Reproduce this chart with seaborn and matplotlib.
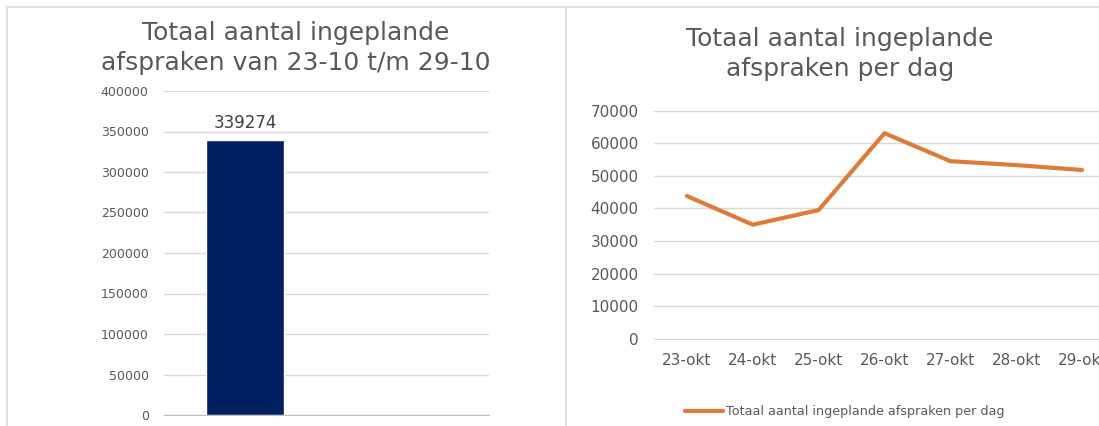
import matplotlib.pyplot as plt
import matplotlib.ticker as mticker
from matplotlib.lines import Line2D
import pandas as pd
import seaborn as sns

# data
totaal_label = ["Totaal"]
totaal_waarde = [339274]

dagen = ["23-okt", "24-okt", "25-okt", "26-okt", "27-okt", "28-okt", "29-okt"]
per_dag = [43800, 35000, 39500, 63100, 54500, 53300, 51800]

titel_links = "Totaal aantal ingeplande\nafspraken van 23-10 t/m 29-10"
titel_rechts = "Totaal aantal ingeplande\nafspraken per dag"
legenda_tekst = "Totaal aantal ingeplande afspraken per dag"

sns.set_style("white")
plt.rcParams["font.family"] = ["DejaVu Sans"]

W, H = 1099, 426
grid_kleur = "#d9d9d9"
tekst_kleur = "#595959"
navy = "#002060"
oranje = "#DE7B3A"

fig = plt.figure(figsize=(W / 100, H / 100), dpi=100)
fig.patch.set_facecolor("white")

# --- left: total bar ---
ax1 = fig.add_axes([164 / W, 1 - 415 / H, 325 / W, 324 / H])
df1 = pd.DataFrame({"cat": totaal_label, "waarde": totaal_waarde})
sns.barplot(data=df1, x="cat", y="waarde", color=navy, width=0.48,
            saturation=1, ax=ax1)
ax1.set_xlim(-0.5, 1.5)
ax1.set_ylim(0, 400000)
ax1.yaxis.set_major_locator(mticker.MultipleLocator(50000))
ax1.yaxis.set_major_formatter(mticker.StrMethodFormatter("{x:.0f}"))
ax1.set_xticks([-0.5, 0.5, 1.5])
ax1.set_xticklabels([])
ax1.tick_params(axis="x", length=4, color="#bfbfbf", width=1)
ax1.tick_params(axis="y", length=0, pad=11, labelsize=9, labelcolor=tekst_kleur)
ax1.grid(axis="y", color=grid_kleur, linewidth=1)
ax1.set_axisbelow(True)
for s in ["top", "right", "left"]:
    ax1.spines[s].set_visible(False)
ax1.spines["bottom"].set_color("#bfbfbf")
ax1.set_xlabel("")
ax1.set_ylabel("")
ax1.bar_label(ax1.containers[0], padding=6, fontsize=12, color="#404040")

# --- right: per day line ---
ax2 = fig.add_axes([654 / W, 1 - 338.7 / H, 461 / W, 228 / H])
df2 = pd.DataFrame({"dag": dagen, "aantal": per_dag})
sns.lineplot(data=df2, x="dag", y="aantal", color=oranje, linewidth=3,
             ax=ax2, label=legenda_tekst, legend=False)
ax2.set_xlim(-0.5, 6.5)
ax2.set_ylim(0, 70000)
ax2.yaxis.set_major_locator(mticker.MultipleLocator(10000))
ax2.yaxis.set_major_formatter(mticker.StrMethodFormatter("{x:.0f}"))
ax2.tick_params(axis="y", length=0, pad=11, labelsize=11, labelcolor=tekst_kleur)
ax2.tick_params(axis="x", length=0, pad=10, labelsize=11, labelcolor=tekst_kleur)
ax2.grid(axis="y", color=grid_kleur, linewidth=1)
ax2.set_axisbelow(True)
for s in ["top", "right", "left"]:
    ax2.spines[s].set_visible(False)
ax2.spines["bottom"].set_color(grid_kleur)
ax2.set_xlabel("")
ax2.set_ylabel("")

handles, labels = ax2.get_legend_handles_labels()
fig.legend(handles, labels, loc="center left",
           bbox_to_anchor=(685 / W, 1 - 412 / H), frameon=False,
           fontsize=9.2, handlelength=3.0, handletextpad=0.2,
           borderpad=0, borderaxespad=0, labelcolor=tekst_kleur)

# titles
fig.text(296 / W, 1 - 48 / H, titel_links, ha="center", va="center",
         fontsize=18, color=tekst_kleur, linespacing=1.3)
fig.text(840 / W, 1 - 54 / H, titel_rechts, ha="center", va="center",
         fontsize=18, color=tekst_kleur, linespacing=1.35)

# panel borders
for xs, ys in [((7 / W, 1), (1 - 7 / H, 1 - 7 / H)),
               ((7 / W, 7 / W), (1 - 7 / H, 0)),
               ((566 / W, 566 / W), (1 - 7 / H, 0))]:
    fig.add_artist(Line2D(xs, ys, color="#e0e0e0", linewidth=1.5,
                          transform=fig.transFigure))

fig.savefig("out.png", dpi=100)
